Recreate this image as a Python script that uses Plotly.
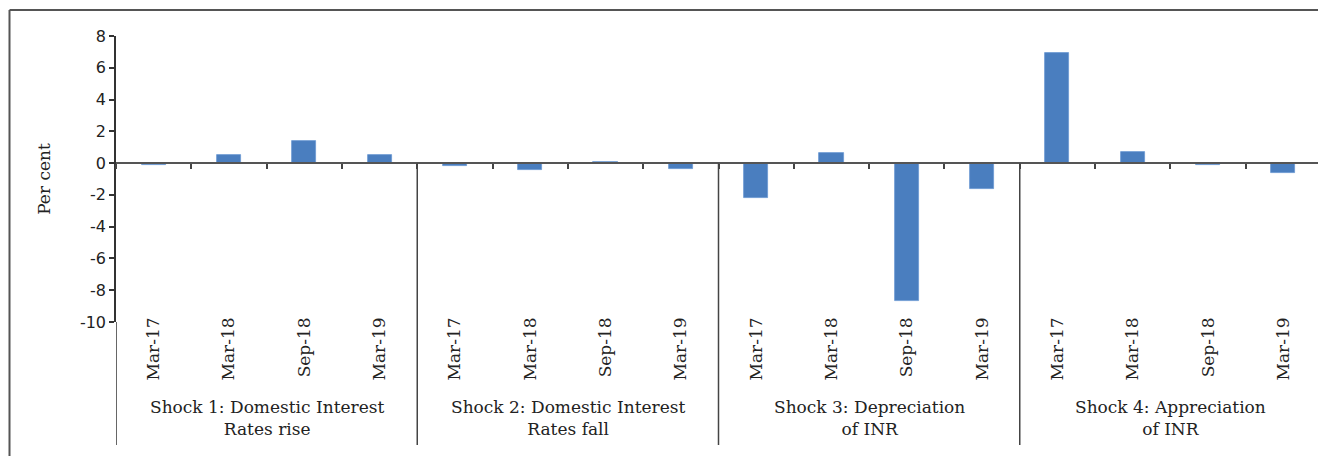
import plotly.graph_objects as go

# ---- data ----
dates = ["Mar-17", "Mar-18", "Sep-18", "Mar-19"]
shocks = [
    "Shock 1: Domestic Interest<br>Rates rise",
    "Shock 2: Domestic Interest<br>Rates fall",
    "Shock 3: Depreciation<br>of INR",
    "Shock 4: Appreciation<br>of INR",
]
shock1 = [-0.15, 0.5, 1.4, 0.5]
shock2 = [-0.2, -0.45, 0.1, -0.4]
shock3 = [-2.2, 0.65, -8.7, -1.6]
shock4 = [6.9, 0.7, -0.12, -0.6]
y_ticks = [8, 6, 4, 2, 0, -2, -4, -6, -8, -10]
y_ticktext = ["8", "6", "4", "2", "0", "-2", "-4", "-6", "-8", "-10"]

values = shock1 + shock2 + shock3 + shock4
labels = dates * len(shocks)
xpos = list(range(len(values)))

# ---- geometry (reference pixels; page body has an 8px margin) ----
OFF = 8
W, H = 1326 - OFF, 456 - OFF
ML, MR, MT, MB = 116 - OFF, 5, 36 - OFF, 11
ph = H - MT - MB
pw = W - ML - MR
def py(pix):               # reference pixel y -> paper y
    return (H - MB - (pix - OFF)) / ph
def px(pix):               # reference pixel x -> paper x
    return ((pix - OFF) - ML) / pw

ydom_bottom = py(322)
zero_paper = py(163.3)

serif = "DejaVu Serif"
sans = "DejaVu Sans"
txt = "#222222"

fig = go.Figure()
fig.add_trace(go.Bar(
    x=xpos, y=values, width=0.32,
    marker=dict(color="#4A7EBF", line=dict(color="#6A98D2", width=0.8)),
    showlegend=False, hoverinfo="y",
))
# invisible trace to register the zero-line axis
fig.add_trace(go.Scatter(x=[None], y=[None], xaxis="x2", yaxis="y",
                         showlegend=False, hoverinfo="skip"))

n = len(values)
boundaries = [i + 0.5 for i in range(-1, n)]

fig.update_layout(
    width=W, height=H,
    margin=dict(l=ML, r=MR, t=MT, b=MB, autoexpand=False),
    paper_bgcolor="white", plot_bgcolor="white",
    bargap=0,
    xaxis=dict(
        range=[-0.5, n - 0.5], anchor="free", position=py(313),
        tickmode="array", tickvals=xpos, ticktext=labels,
        tickangle=-90, ticks="", showline=False, showgrid=False,
        zeroline=False, automargin=False,
        tickfont=dict(family=serif, size=17, color=txt),
    ),
    xaxis2=dict(
        overlaying="x", anchor="free", position=zero_paper,
        range=[-0.5, n - 0.5], tickmode="array", tickvals=boundaries,
        ticks="outside", ticklen=5, tickwidth=1.5, tickcolor="#444",
        showticklabels=False, showline=True, linecolor="#555",
        linewidth=1.5, showgrid=False, zeroline=False, automargin=False,
    ),
    yaxis=dict(
        domain=[ydom_bottom, 1], range=[-10, 8],
        tickmode="array", tickvals=y_ticks, ticktext=y_ticktext,
        ticks="outside", ticklen=5, tickwidth=1.5, tickcolor="#333",
        showline=True, linecolor="#333", linewidth=1.5,
        showgrid=False, zeroline=False, automargin=False,
        tickfont=dict(family=sans, size=16, color=txt),
        title=dict(text="Per cent", standoff=25,
                   font=dict(family=serif, size=17, color=txt)),
    ),
)

shapes = []
# y-axis extension down through label area
shapes.append(dict(type="line", xref="x", yref="paper", x0=-0.5, x1=-0.5,
                   y0=0, y1=ydom_bottom, line=dict(color="#333", width=1.5)))
# group separators
for b in range(4, n + 1, 4):
    shapes.append(dict(type="line", xref="x", yref="paper",
                       x0=b - 0.5, x1=b - 0.5, y0=0, y1=zero_paper,
                       line=dict(color="#444", width=1.5)))
# outer frame (top and left)
shapes.append(dict(type="line", xref="paper", yref="paper",
                   x0=px(9.5), x1=px(1326), y0=py(10), y1=py(10),
                   line=dict(color="#555", width=2)))
shapes.append(dict(type="line", xref="paper", yref="paper",
                   x0=px(9.5), x1=px(9.5), y0=py(10), y1=py(456),
                   line=dict(color="#555", width=2)))
fig.update_layout(shapes=shapes)

for i, s in enumerate(shocks):
    fig.add_annotation(x=i * 4 + 1.5, xref="x", y=py(417.5), yref="paper",
                       text=s, showarrow=False, yanchor="middle",
                       font=dict(family=serif, size=17, color=txt))

fig.write_html("out.html")
